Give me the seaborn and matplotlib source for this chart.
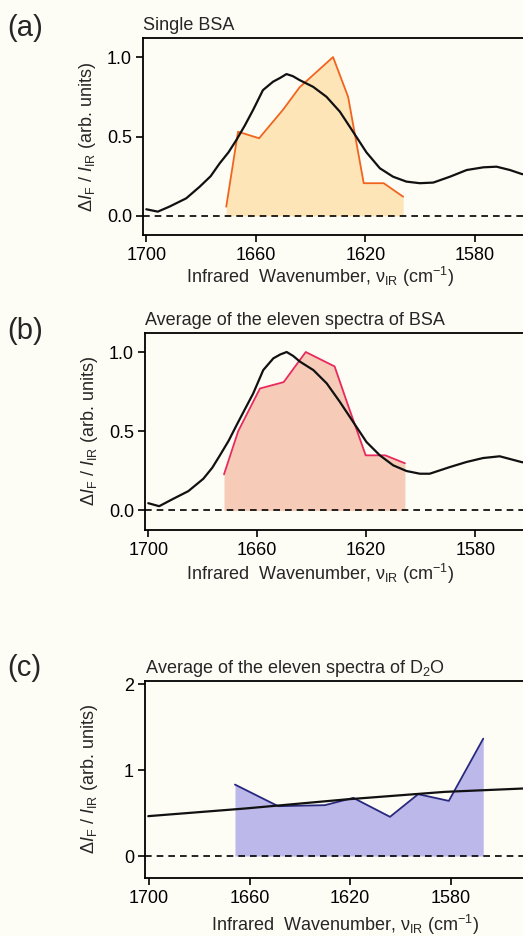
import numpy as np
import pandas as pd
import matplotlib
matplotlib.use("Agg")
import matplotlib.pyplot as plt
import seaborn as sns

# ---------------- data ----------------
# panel (a): single BSA
a_ir_wn = [1700, 1695.8, 1691.5, 1685.4, 1680.5, 1676.5, 1673.2, 1670.0, 1667.1, 1664.0,
           1661.0, 1657.4, 1653.7, 1651.0, 1648.8, 1646.5, 1644.0, 1639.1, 1634.2, 1629.3,
           1624.5, 1619.6, 1614.7, 1609.9, 1605.0, 1600.1, 1595.2, 1589.1, 1583.0, 1576.9,
           1572.1, 1567.2, 1562.9, 1558.0]
a_ir_val = [0.042, 0.027, 0.059, 0.111, 0.184, 0.25, 0.331, 0.40, 0.478, 0.57,
            0.667, 0.792, 0.845, 0.87, 0.893, 0.88, 0.855, 0.813, 0.75, 0.656,
            0.53, 0.40, 0.30, 0.247, 0.216, 0.206, 0.21, 0.247, 0.289, 0.306,
            0.31, 0.289, 0.264, 0.25]
a_sp_wn = [1670.8, 1666.5, 1658.8, 1650.0, 1644.0, 1631.8, 1626.3, 1620.6, 1613.3, 1606.2]
a_sp_val = [0.058, 0.53, 0.489, 0.67, 0.81, 1.0, 0.75, 0.206, 0.206, 0.121]

# panel (b): average of eleven BSA spectra
b_ir_wn = [1700, 1696, 1690.8, 1685.3, 1679.8, 1676.5, 1673.7, 1670.5, 1667.6, 1664.5,
           1661.5, 1657.8, 1654.1, 1651.5, 1649.2, 1646.8, 1644.3, 1639.4, 1634.5, 1629.7,
           1624.8, 1619.9, 1615.0, 1610.1, 1605.2, 1600.3, 1596.7, 1589.3, 1583.2, 1577.1,
           1571.0, 1563.1, 1558.0]
b_ir_val = [0.046, 0.027, 0.074, 0.122, 0.2, 0.27, 0.348, 0.44, 0.538, 0.64,
            0.738, 0.886, 0.96, 0.985, 1.0, 0.975, 0.939, 0.886, 0.802, 0.686,
            0.559, 0.432, 0.348, 0.285, 0.249, 0.232, 0.232, 0.274, 0.306, 0.331,
            0.342, 0.306, 0.29]
b_sp_wn = [1672.2, 1667.0, 1659.0, 1650.3, 1642.2, 1631.6, 1627.0, 1620.2, 1613.0, 1605.8]
b_sp_val = [0.228, 0.5, 0.77, 0.81, 1.0, 0.909, 0.68, 0.348, 0.348, 0.298]

# panel (c): average of eleven D2O spectra
c_ir_wn = [1700.3, 1661.8, 1622.0, 1582.3, 1551.2, 1545.0]
c_ir_val = [0.465, 0.554, 0.659, 0.748, 0.787, 0.794]
c_sp_wn = [1665.8, 1648.6, 1630.0, 1618.7, 1604.1, 1592.9, 1580.7, 1567.0]
c_sp_val = [0.833, 0.581, 0.593, 0.678, 0.457, 0.721, 0.643, 1.368]

panel_letters = ["(a)", "(b)", "(c)"]
panel_titles = ["Single BSA", "Average of the eleven spectra of BSA",
                "Average of the eleven spectra of D$_2$O"]
xticks = [1700, 1660, 1620, 1580]
yticks_ab = [0.0, 0.5, 1.0]
yticks_c = [0, 1, 2]

# ---------------- style ----------------
sns.set_theme(style="ticks")
plt.rcParams["font.family"] = ["Liberation Sans", "DejaVu Sans"]
plt.rcParams["mathtext.fontset"] = "custom"
plt.rcParams["mathtext.rm"] = "Liberation Sans"
plt.rcParams["mathtext.it"] = "Liberation Sans:italic"
plt.rcParams["mathtext.bf"] = "Liberation Sans:bold"

BG = "#fdfcf5"
W, H = 523, 936
fig = plt.figure(figsize=(W / 100, H / 100), dpi=100, facecolor=BG)

def px_axes(left, top, right, bottom):
    return fig.add_axes([left / W, 1 - bottom / H, (right - left) / W, (bottom - top) / H])

axes = [px_axes(143, 38, 533.5, 235),
        px_axes(145, 333, 533.5, 529.5),
        px_axes(145, 681, 533.5, 877.5)]

xlims = [(1701.2, 1558.6), (1701.2, 1558.6), (1701.6, 1547.0)]
ylims = [(-0.12, 1.12), (-0.12, 1.12), (-0.25, 2.04)]

panels = [
    (a_ir_wn, a_ir_val, a_sp_wn, a_sp_val, "#f0641e", "#fde5b8"),
    (b_ir_wn, b_ir_val, b_sp_wn, b_sp_val, "#e82a5c", "#f6ccb8"),
    (c_ir_wn, c_ir_val, c_sp_wn, c_sp_val, "#27287e", "#bcb8ea"),
]

FS = 13
ylabel = r"$\Delta\mathit{I}_\mathrm{F}$ / $\mathit{I}_\mathrm{IR}$ (arb. units)"
xlabel = r"Infrared  Wavenumber, ν$_\mathrm{IR}$ (cm$^{-1}$)"

for i, ax in enumerate(axes):
    ir_wn, ir_val, sp_wn, sp_val, lc, fc = panels[i]
    ax.set_facecolor("none")
    dsp = pd.DataFrame({"wn": sp_wn, "val": sp_val})
    dir_ = pd.DataFrame({"wn": ir_wn, "val": ir_val})
    ax.fill_between(dsp["wn"], dsp["val"], 0, color=fc, lw=0, zorder=1)
    sns.lineplot(data=dsp, x="wn", y="val", ax=ax, color=lc, lw=1.3,
                 sort=False, estimator=None, zorder=3)
    sns.lineplot(data=dir_, x="wn", y="val", ax=ax, color="#111111", lw=1.6,
                 sort=False, estimator=None, zorder=4)
    ax.axhline(0, color="black", lw=1.2, ls=(0, (4, 3)), zorder=2)

    ax.set_xlim(*xlims[i])
    ax.set_ylim(*ylims[i])
    ax.set_xticks(xticks)
    ax.set_xticklabels([str(t) for t in xticks])
    if i < 2:
        ax.set_yticks(yticks_ab)
        ax.set_yticklabels([f"{t:.1f}" for t in yticks_ab])
    else:
        ax.set_yticks(yticks_c)
        ax.set_yticklabels([str(t) for t in yticks_c])

    for s in ["left", "bottom", "top"]:
        ax.spines[s].set_visible(True)
        ax.spines[s].set_linewidth(1.3)
        ax.spines[s].set_color("black")
    ax.spines["right"].set_visible(False)
    ax.tick_params(axis="both", direction="out", length=5, width=1.2,
                   labelsize=FS, colors="black", top=False, right=False)
    ax.tick_params(axis="x", pad=4)
    ax.tick_params(axis="y", pad=3)

    ax.set_xlabel(xlabel, fontsize=FS)
    ax.set_ylabel(ylabel, fontsize=FS)
    ax.yaxis.set_label_coords(-0.115, 0.5)

    ax.annotate(panel_titles[i], xy=(0, 1), xycoords="axes fraction",
                xytext=(0, 6), textcoords="offset points",
                ha="left", va="baseline", fontsize=FS)

axes[0].xaxis.set_label_coords(0.453, -0.15)
axes[1].xaxis.set_label_coords(0.452, -0.165)
axes[2].xaxis.set_label_coords(0.514, -0.178)

letter_y = [28, 331, 668]
for lt, yy in zip(panel_letters, letter_y):
    fig.text(7 / W, 1 - yy / H, lt, fontsize=21, ha="left", va="center")

fig.savefig("out.png", dpi=100, facecolor=BG)
